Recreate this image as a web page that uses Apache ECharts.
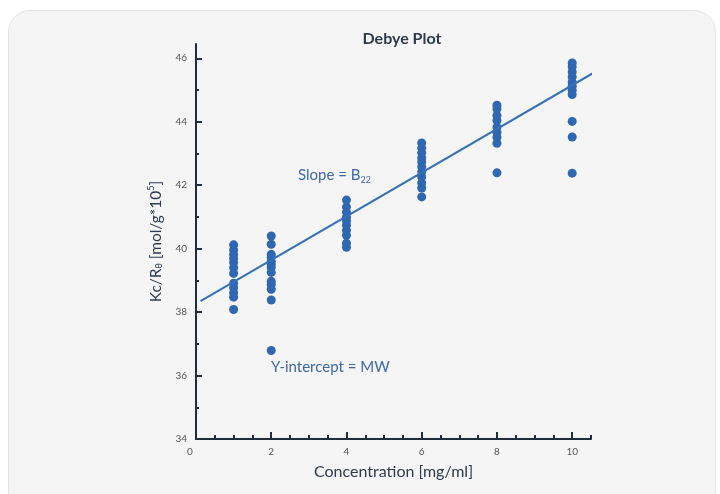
<!DOCTYPE html>
<html>
<head>
<meta charset="utf-8">
<script src="https://cdn.jsdelivr.net/npm/echarts@6/dist/echarts.min.js"></script>
<style>
  html, body { margin: 0; padding: 0; background: #ffffff; overflow: hidden; width: 720px; height: 494px; }
  #card { position: absolute; left: 8px; top: 10px; width: 708px; height: 700px;
          background: #f5f5f5; border: 1px solid #e4e4e4; border-radius: 22px; box-sizing: border-box; }
  #chart { position: absolute; left: 0; top: 0; width: 720px; height: 494px; }
</style>
</head>
<body>
<div id="card"></div>
<div id="chart"></div>
<script>
// ---- data ----
const concentrations = [1, 2, 4, 6, 8, 10];
const kcR_at1 = [40.12, 39.96, 39.82, 39.69, 39.56, 39.40, 39.22, 38.91, 38.77, 38.61, 38.47, 38.08];
const kcR_at2 = [40.40, 40.14, 39.82, 39.73, 39.60, 39.51, 39.41, 39.25, 38.97, 38.87, 38.72, 38.38, 36.79];
const kcR_at4 = [41.53, 41.31, 41.15, 40.99, 40.87, 40.74, 40.58, 40.42, 40.17, 40.04];
const kcR_at6 = [43.33, 43.17, 43.02, 42.86, 42.73, 42.58, 42.42, 42.26, 42.07, 41.91, 41.63];
const kcR_at8 = [44.52, 44.41, 44.20, 44.04, 43.83, 43.67, 43.51, 43.32, 42.39];
const kcR_at10 = [45.85, 45.73, 45.57, 45.41, 45.25, 45.12, 44.99, 44.86, 44.01, 43.52, 42.38];
const fitSlope = 0.689;
const fitIntercept = 38.26;
const fitRange = [0.12, 10.62];
const xMajorTicks = [0, 2, 4, 6, 8, 10];
const xMinorTicks = [0.5, 1, 1.5, 2.5, 3, 3.5, 4.5, 5, 5.5, 6.5, 7, 7.5, 8.5, 9, 9.5, 10.5];
const yMajorTicks = [34, 36, 38, 40, 42, 44, 46];
const yMinorTicks = [35, 37, 39, 41, 43, 45];

// ---- build ----
const groups = [kcR_at1, kcR_at2, kcR_at4, kcR_at6, kcR_at8, kcR_at10];
const scatterData = [];
groups.forEach((vals, i) => vals.forEach(v => scatterData.push([concentrations[i], v])));
const fitData = fitRange.map(x => [x, fitIntercept + fitSlope * x]);

const axisColor = '#1f2d3f';
const textColor = '#2d3b4e';
const blue = '#2f67b1';
const FONT = 'Lato, "Open Sans", sans-serif';

const chart = echarts.init(document.getElementById('chart'), null, { renderer: 'canvas' });
chart.setOption({
  backgroundColor: 'transparent',
  animation: false,
  title: {
    text: 'Debye Plot', left: 397, top: 26, textAlign: 'center',
    textStyle: { fontFamily: FONT, fontSize: 16, fontWeight: 'bold', color: textColor }
  },
  grid: { left: 196, right: 129, top: 44, bottom: 55 },
  xAxis: [{
    type: 'value', min: 0, max: 10.5, position: 'bottom',
    axisLine: { show: true, onZero: false, lineStyle: { color: axisColor, width: 2 } },
    axisTick: { show: true, inside: true, length: 7, customValues: xMajorTicks, lineStyle: { color: axisColor, width: 2 } },
    axisLabel: {
      customValues: xMajorTicks, margin: 8, color: '#555', fontSize: 10, fontFamily: FONT,
      formatter: v => v === 0 ? '{z|0}' : String(v),
      rich: { z: { padding: [0, 12, 0, 0], color: '#555', fontSize: 10, fontFamily: FONT } }
    },
    splitLine: { show: false },
    name: 'Concentration [mg/ml]', nameLocation: 'middle', nameGap: 25,
    nameTextStyle: { fontFamily: FONT, fontSize: 16, color: textColor }
  }, {
    type: 'value', min: 0, max: 10.5, position: 'bottom',
    axisLine: { show: false },
    axisTick: { show: true, inside: true, length: 4, customValues: xMinorTicks, lineStyle: { color: axisColor, width: 2 } },
    axisLabel: { show: false }, splitLine: { show: false }
  }],
  yAxis: [{
    type: 'value', min: 34, max: 46.45, position: 'left',
    axisLine: { show: true, onZero: false, lineStyle: { color: axisColor, width: 2 } },
    axisTick: { show: true, inside: true, length: 6, customValues: yMajorTicks, lineStyle: { color: axisColor, width: 2 } },
    axisLabel: { customValues: yMajorTicks, margin: 9, color: '#555', fontSize: 10, fontFamily: FONT },
    splitLine: { show: false },
    name: 'Kc/R{sub|θ} [mol/g*10{sup|5}]', nameLocation: 'middle', nameGap: 32,
    nameTextStyle: {
      fontFamily: FONT, fontSize: 15.5, color: textColor,
      rich: {
        sub: { fontSize: 9, fontFamily: FONT, color: textColor, verticalAlign: 'bottom', padding: [8, 0, 0, 0] },
        sup: { fontSize: 9, fontFamily: FONT, color: textColor, verticalAlign: 'top', padding: [0, 0, 8, 0] }
      }
    }
  }, {
    type: 'value', min: 34, max: 46.45, position: 'left',
    axisLine: { show: false },
    axisTick: { show: true, inside: true, length: 3, customValues: yMinorTicks, lineStyle: { color: axisColor, width: 2 } },
    axisLabel: { show: false }, splitLine: { show: false }
  }],
  graphic: [
    { type: 'text', left: 298, top: 168, z: 10, style: {
      text: 'Slope = B{s|22}', fill: '#3d6aa6', font: '15px ' + FONT,
      rich: { s: { fontSize: 9, fontFamily: FONT, fill: '#3d6aa6', padding: [9, 0, 0, 0] } } } },
    { type: 'text', left: 271, top: 360, z: 10, style: {
      text: 'Y-intercept = MW', fill: '#3d6aa6', font: '15px ' + FONT } }
  ],
  series: [{
    type: 'line', data: fitData, xAxisIndex: 0, yAxisIndex: 0, showSymbol: false, clip: false,
    lineStyle: { color: '#3571b6', width: 2 }, z: 3
  }, {
    type: 'scatter', data: scatterData, xAxisIndex: 0, yAxisIndex: 0,
    symbolSize: 9, itemStyle: { color: blue, opacity: 1 }, z: 2
  }]
});
</script>
</body>
</html>
